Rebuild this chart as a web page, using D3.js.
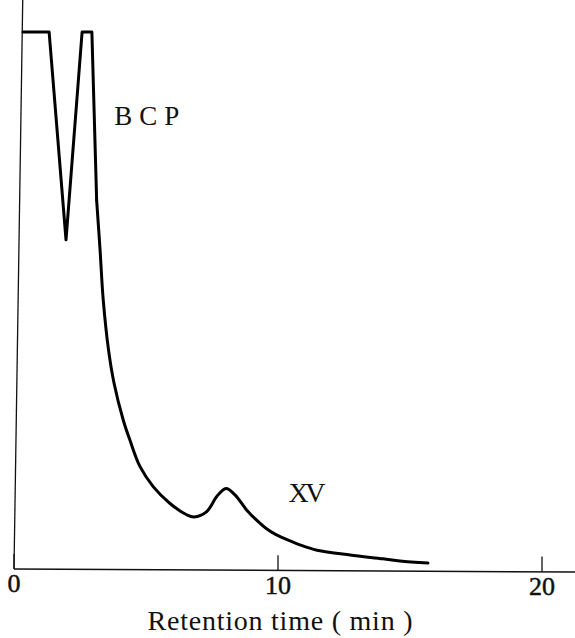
<!DOCTYPE html>
<html>
<head>
<meta charset="utf-8">
<script src="https://cdn.jsdelivr.net/npm/d3@7"></script>
<style>
  html, body { margin: 0; padding: 0; background: #fff; }
  svg { display: block; }
  text { font-family: "Liberation Serif", "DejaVu Serif", serif; fill: #111; }
</style>
</head>
<body>
<svg id="chart" width="575" height="638"></svg>
<script>
// ---- data (retention time in min, detector response in arbitrary units, 100 = off-scale) ----
const peakTimes  = [0.34, 1.33, 1.97, 2.58, 2.95, 3.13];
const peakValues = [100, 100, 61.3, 100, 100, 68.7];

const tailTimes  = [3.13, 3.26, 3.38, 3.58, 3.79, 4.14, 4.39, 4.77, 5.28, 5.91, 6.54, 6.82,
                    7.30, 7.68, 8.03, 8.37, 8.81, 9.19, 9.58, 9.89, 10.19, 10.83, 11.48, 12.73, 13.98, 14.62, 15.68];
const tailValues = [68.7, 59.4, 50.1, 40.8, 34.6, 27.7, 24.0, 19.1, 15.3, 12.2, 10.1, 9.7,
                    10.7, 13.5, 15.0, 13.8, 11.0, 9.1, 7.45, 6.5, 5.8, 4.5, 3.5, 2.6, 1.9, 1.5, 1.1];

const xTicks = [0, 10, 20];
const xTickLabels = ["0", "10", "20"];
const xTitle = "Retention time ( min )";
const labels = [
  { text: "BCP", t: 3.8, v: 82.7, len: 65, size: 27 },
  { text: "XV",  t: 10.4, v: 12.5, len: 37, size: 28 }
];

// ---- scales ----
const svg = d3.select("#chart");
const x = d3.scaleLinear().domain([0, 20]).range([14, 542]);
const y = d3.scaleLinear().domain([0, 100]).range([569, 32]);
const yTop = 109; // axis extends above plateau (in data units)

// ---- axes ----
svg.append("line")
  .attr("x1", x(0)).attr("y1", y(0))
  .attr("x2", 575).attr("y2", y(0) + 3)
  .attr("stroke", "#111").attr("stroke-width", 1.5);

svg.append("line")
  .attr("x1", x(0)).attr("y1", y(0))
  .attr("x2", x(0.34)).attr("y2", y(yTop))
  .attr("stroke", "#111").attr("stroke-width", 1.3);

const xAxis = d3.axisBottom(x)
  .tickValues(xTicks)
  .tickFormat((d, i) => xTickLabels[i])
  .tickSizeInner(-15)
  .tickSizeOuter(0)
  .tickPadding(9);

const gx = svg.append("g")
  .attr("transform", `translate(0,${y(0)})`)
  .call(xAxis);
gx.select(".domain").remove();
gx.selectAll(".tick").attr("transform", d => `translate(${x(d)},${d / 20 * 2.5})`);
gx.selectAll(".tick line").attr("stroke", "#111").attr("stroke-width", 1.3);
gx.selectAll(".tick text")
  .attr("font-family", "Liberation Serif, serif")
  .attr("font-size", 26)
  .attr("fill", "#111")
  .attr("stroke", "#111").attr("stroke-width", 0.5)
  .attr("dy", "0.55em");

svg.append("text")
  .attr("x", x(10) + 2)
  .attr("y", 630)
  .attr("text-anchor", "middle")
  .attr("font-size", 28)
  .attr("textLength", 265)
  .attr("lengthAdjust", "spacing")
  .text(xTitle);

// ---- curve ----
const peakData = peakTimes.map((t, i) => [t, peakValues[i]]);
const tailData = tailTimes.map((t, i) => [t, tailValues[i]]);

const lineLin = d3.line().x(d => x(d[0])).y(d => y(d[1])).curve(d3.curveLinear);
const lineSmooth = d3.line().x(d => x(d[0])).y(d => y(d[1])).curve(d3.curveCatmullRom.alpha(0.5));

[[peakData, lineLin], [tailData, lineSmooth]].forEach(([data, gen]) => {
  svg.append("path")
    .datum(data)
    .attr("d", gen)
    .attr("fill", "none")
    .attr("stroke", "#000")
    .attr("stroke-width", 3)
    .attr("stroke-linejoin", "round")
    .attr("stroke-linecap", "round");
});

// ---- peak labels ----
labels.forEach(l => {
  svg.append("text")
    .attr("x", x(l.t))
    .attr("y", y(l.v))
    .attr("font-size", l.size)
    .attr("textLength", l.len)
    .attr("lengthAdjust", "spacing")
    .text(l.text);
});
</script>
</body>
</html>
